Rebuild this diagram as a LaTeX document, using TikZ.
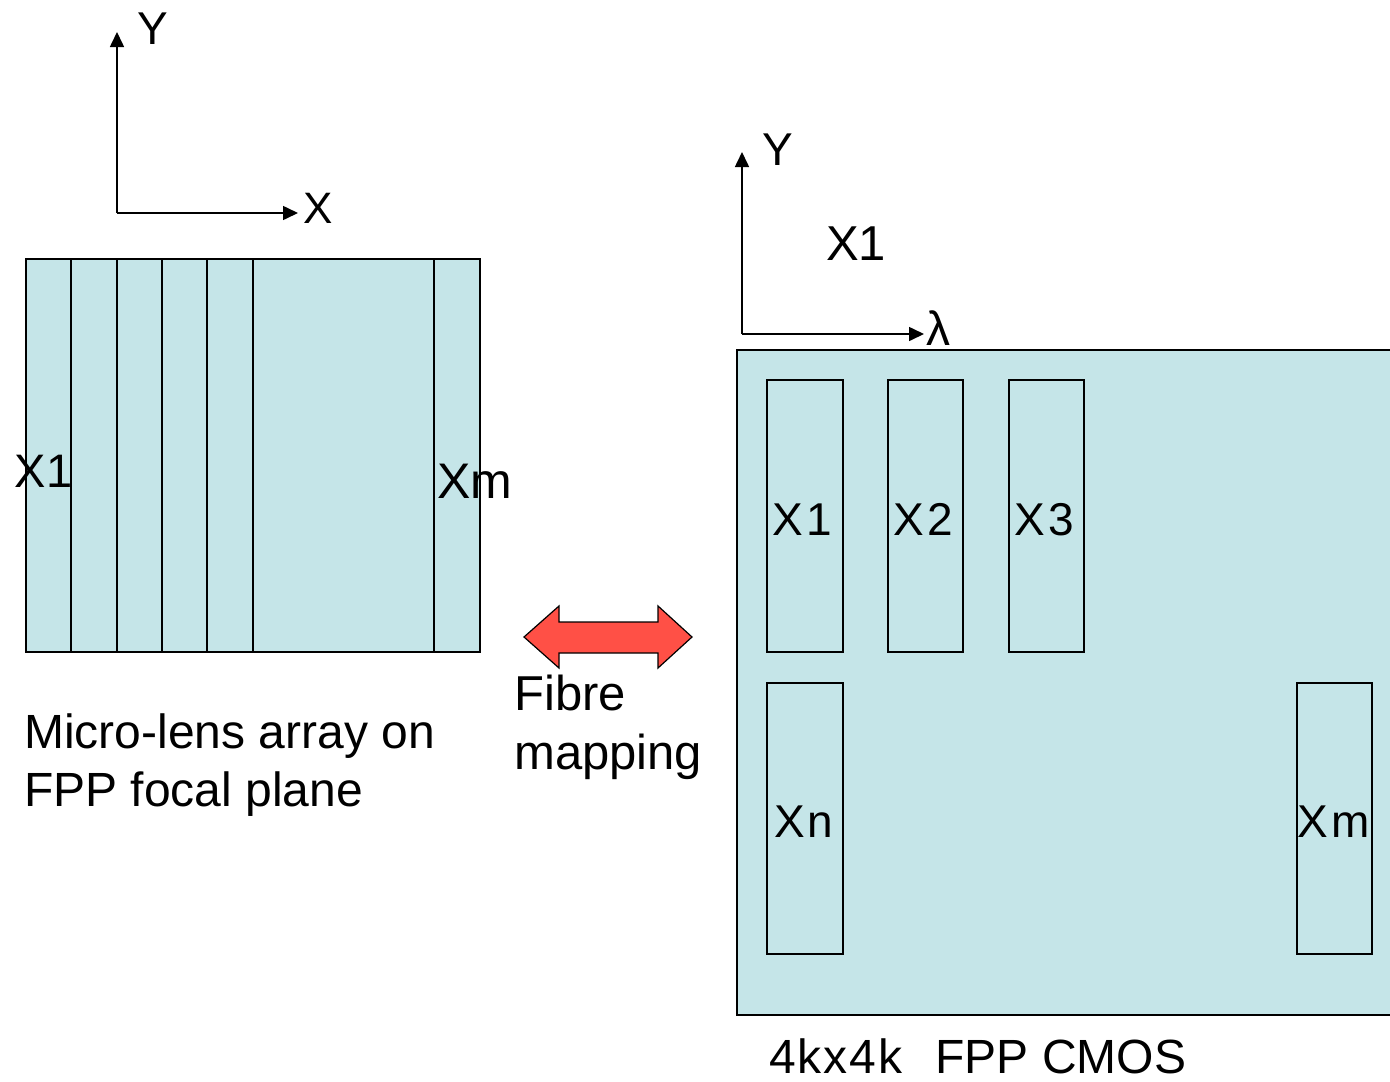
\documentclass[tikz,border=0pt]{standalone}
\usepackage{fontspec}
\setmainfont{Liberation Sans}
\usetikzlibrary{arrows.meta}
\definecolor{cellfill}{RGB}{197,229,232}
\definecolor{arrowred}{RGB}{255,80,70}
\begin{document}
\begin{tikzpicture}[x=1pt,y=-1pt,
  box/.style={fill=cellfill,draw=black,line width=1.6pt},
  strip/.style={draw=black,line width=1.6pt},
  axis/.style={line width=1.6pt,-{Triangle[length=15pt,width=14pt]}},
  lbl/.style={inner sep=0pt,anchor=base west,font=\fontsize{#1}{#1}\selectfont},
]
\useasboundingbox (0,0) rectangle (1390,1082);

% ---------- left axes ----------
\coordinate (oL) at (117,213);
\coordinate (yLtip) at (117,32);
\coordinate (xLtip) at (298,213);
\draw[axis] (oL) -- (yLtip);
\draw[axis] (oL) -- (xLtip);
\node[lbl=46] (yL) at (137,44) {Y};
\node[lbl=44] (xL) at (303,223) {X};

% ---------- micro-lens array ----------
\draw[box] (26,259) rectangle (480,652);
\foreach \x in {71,117,162,207,253,434}
  \draw[strip] (\x,259) -- (\x,652);
\node[lbl=47] (lx1) at (14,487) {X\kern1pt 1};
\node[lbl=50] (lxm) at (437,498) {Xm};

\node[lbl=48] (cap1) at (24,748) {Micro-lens array on};
\node[lbl=48] (cap2) at (24,806) {FPP focal plane};

% ---------- fibre mapping arrow ----------
\draw[fill=arrowred,draw=black,line width=1.2pt,line join=miter]
  (524,637) -- (559,606) -- (559,622) -- (658,622) -- (658,606) -- (692,637)
  -- (658,668) -- (658,653) -- (559,653) -- (559,668) -- cycle;
\node[lbl=49] (fib1) at (514,710) {Fibre};
\node[lbl=49] (fib2) at (514,769) {mapping};

% ---------- right axes ----------
\coordinate (oR) at (742,334);
\coordinate (yRtip) at (742,152);
\coordinate (xRtip) at (924,334);
\draw[axis] (oR) -- (yRtip);
\draw[axis] (oR) -- (xRtip);
\node[lbl=46] (yR) at (762,165) {Y};
\node[lbl=48] (lam) at (926,345) {λ};
\node[lbl=49] (x1top) at (826,260) {X1};

% ---------- detector ----------
\fill[cellfill] (737,350) rectangle (1400,1015);
\draw[line width=1.8pt] (1400,350) -- (737,350) -- (737,1015) -- (1400,1015);

\draw[box] (767,380) rectangle (843,652);
\draw[box] (888,380) rectangle (963,652);
\draw[box] (1009,380) rectangle (1084,652);
\draw[box] (767,683) rectangle (843,954);
\draw[box] (1297,683) rectangle (1372,954);

\node[lbl=46] (c1) at (772,535) {X\kern4pt 1};
\node[lbl=46] (c2) at (893,535) {X\kern4pt 2};
\node[lbl=46] (c3) at (1014,535) {X\kern4pt 3};
\node[lbl=46] (cn) at (774,837) {X\kern3pt n};
\node[lbl=46] (cm) at (1297,837) {X\kern4pt m};

\node[lbl=48] (det) at (769,1073) {4\kern2pt k\kern2pt x\kern2pt 4\kern2pt k\hspace*{33pt}FPP CMOS};
\end{tikzpicture}
\end{document}
